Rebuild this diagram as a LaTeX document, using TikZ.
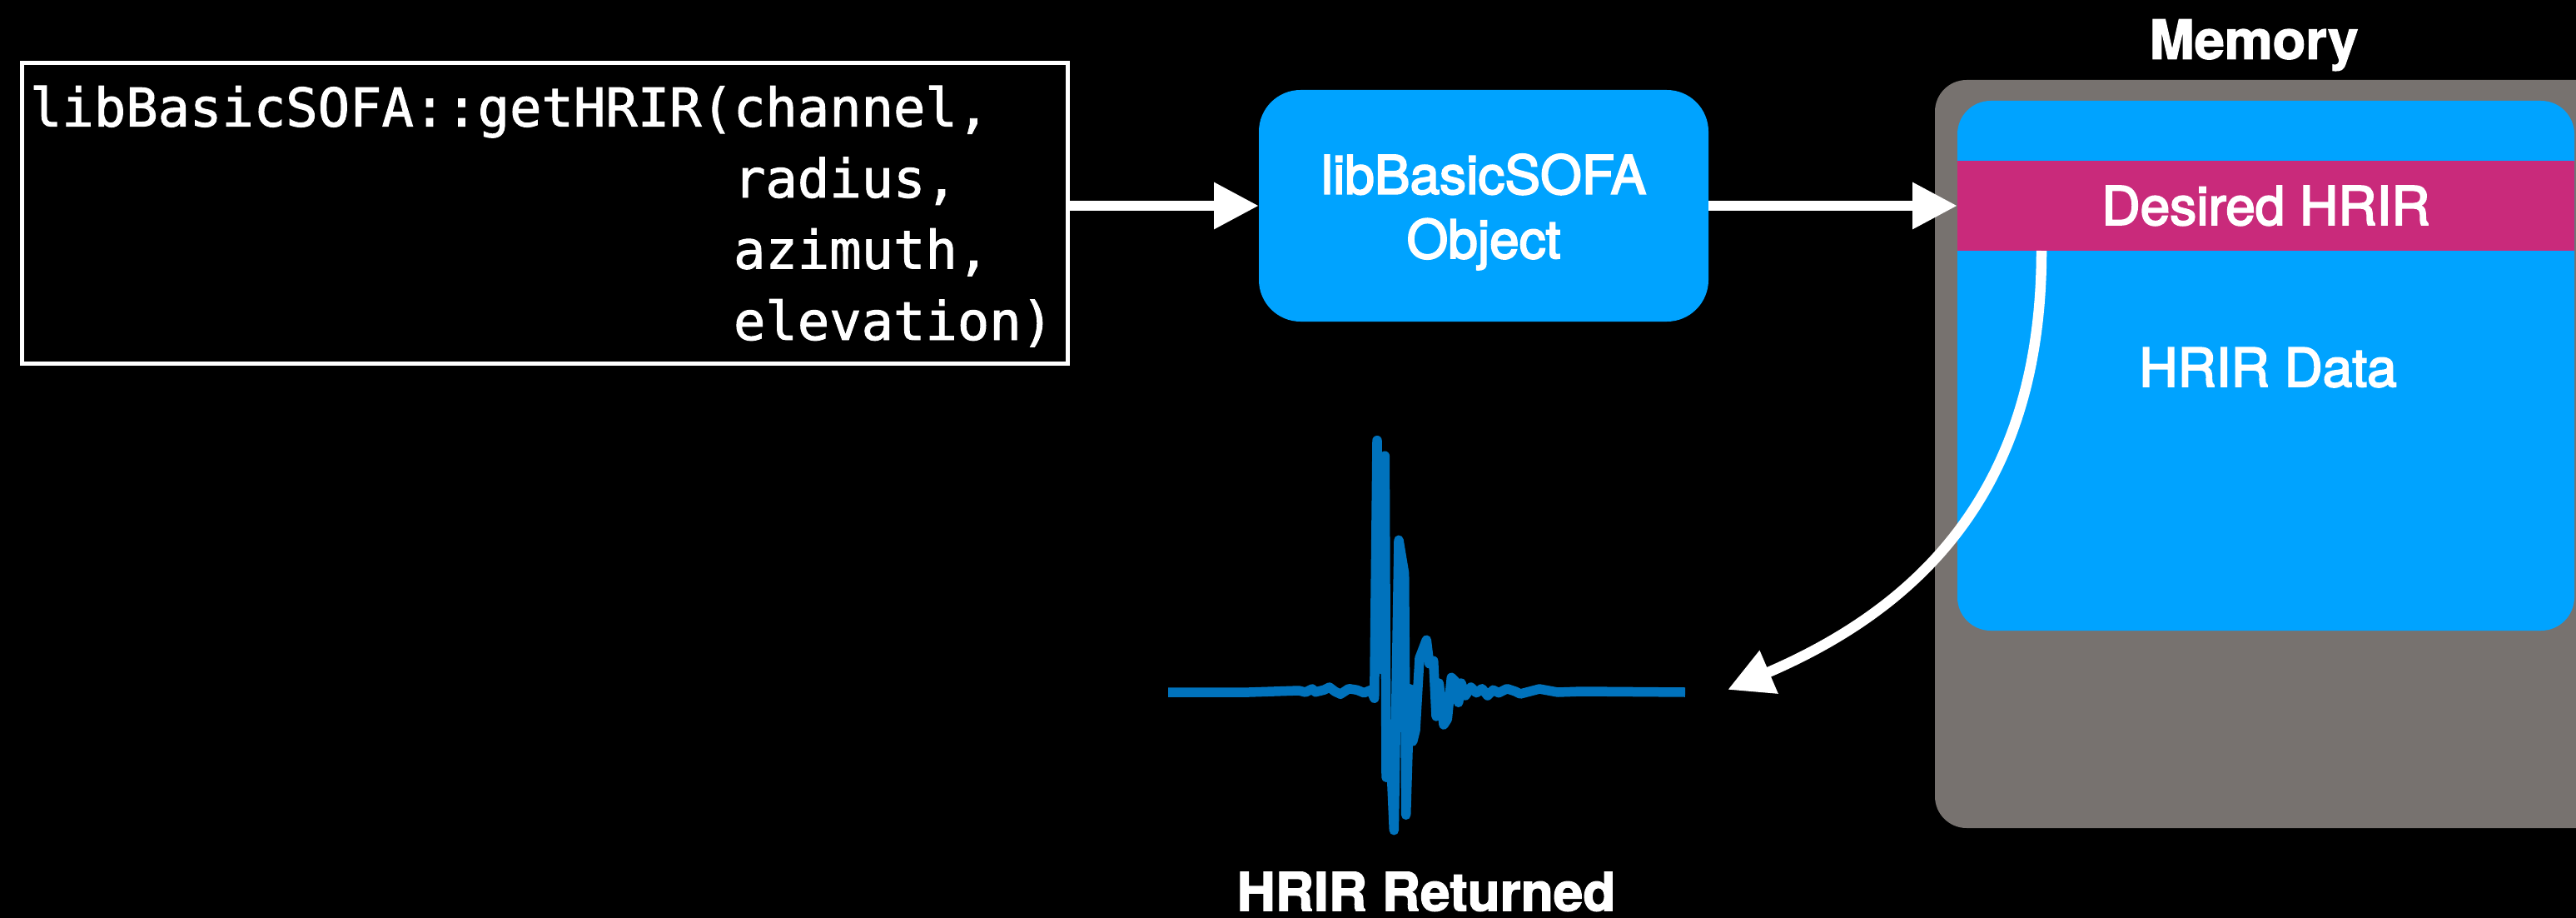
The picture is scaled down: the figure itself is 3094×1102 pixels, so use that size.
\documentclass[tikz,border=0pt]{standalone}
\usepackage{fontspec}
\setmainfont{TeX Gyre Heros}
\newfontfamily\labelfont{TeX Gyre Heros}[FakeBold=3]
\newfontfamily\headfont{TeX Gyre Heros}[FakeBold=2]
\newfontfamily\codefont{DejaVu Sans Mono}[FakeBold=1.5]
\usetikzlibrary{arrows.meta,calc}

\definecolor{memgray}{RGB}{119,114,111}
\definecolor{blockblue}{RGB}{0,163,255}
\definecolor{rowpink}{RGB}{201,42,123}
\definecolor{waveblue}{RGB}{0,114,188}

\tikzset{
  codebox/.style={draw=white, line width=5pt, inner sep=0pt, outer sep=2.5pt},
  codeline/.style={text=white, inner sep=0pt, outer sep=0pt, anchor=base west,
    font=\codefont\fontsize{63.8}{85}\selectfont},
  bluebox/.style={fill=blockblue, rounded corners=50pt, inner sep=0pt, outer sep=0pt},
  membox/.style={fill=memgray, rounded corners=38pt, inner sep=0pt, outer sep=0pt},
  datablock/.style={fill=blockblue, rounded corners=40pt, inner sep=0pt, outer sep=0pt},
  rowband/.style={fill=rowpink, inner sep=0pt, outer sep=0pt, text=white,
    font=\labelfont\fontsize{64}{77}\selectfont},
  plainlabel/.style={text=white, inner sep=0pt, outer sep=0pt, anchor=base,
    font=\labelfont\fontsize{64}{77}\selectfont},
  boldlabel/.style={text=white, inner sep=0pt, outer sep=0pt, anchor=base,
    font=\headfont\bfseries\fontsize{65}{78}\selectfont},
  flow/.style={draw=white, line width=12.5pt,
    -{Triangle[length=54pt,width=53pt]}},
  wave/.style={draw=waveblue, line width=11.5pt, line join=round, line cap=butt}
}

\begin{document}
\begin{tikzpicture}[x=1pt,y=-1pt]
\useasboundingbox (0,0) rectangle (3094,1102);
\fill[black] (0,0) rectangle (3094,1102);
\clip (0,0) rectangle (3094,1102);

% function call box
\node[codebox, minimum width=1256pt, minimum height=361pt] (call) at (654.5,256) {};
\node[codeline] (code1) at (36,151.7) {libBasicSOFA::getHRIR(channel,};
\node[codeline] (code2) at (36,237) {\phantom{libBasicSOFA::getHRIR(}radius,};
\node[codeline] (code3) at (36,322.5) {\phantom{libBasicSOFA::getHRIR(}azimuth,};
\node[codeline] (code4) at (36,408) {\phantom{libBasicSOFA::getHRIR(}elevation)};

% object box
\node[bluebox, minimum width=540pt, minimum height=278pt] (obj) at (1782,247) {};
\node[plainlabel] (objname) at (1782,232.7) {libBasicSOFA};
\node[plainlabel] (objkind) at (1782,310) {Object};

% memory
\node[boldlabel] (memtitle) at (2707,70.7) {Memory};
\node[membox, minimum width=826pt, minimum height=898pt] (mem) at (2737,545) {};
\node[datablock, minimum width=741pt, minimum height=636pt] (data) at (2721.5,439) {};
\node[rowband, minimum width=741pt, minimum height=108pt] (desired) at (2721.5,247) {Desired HRIR};
\node[plainlabel] (datalabel) at (2724,464) {HRIR Data};

% returned impulse response
\draw[wave] (1403,831) -- (1500,831) -- (1545,829.5) -- (1560,829) -- (1568,831)
  -- (1576,827) -- (1580,830.7) -- (1590,828.3) -- (1596.7,825) -- (1603.3,830)
  -- (1610,833.3) -- (1620,826.7) -- (1630,828.3) -- (1638.3,831.7)
  -- (1646.7,828.3) -- (1650.7,838.3) -- (1654,528.7) -- (1658.3,803.3)
  -- (1663.3,547.3) -- (1665,933.3) -- (1669.3,883.3) -- (1674.3,996.7)
  -- (1680,648.3) -- (1686.7,688.3) -- (1688.7,978.3) -- (1693.3,826.7)
  -- (1696.7,890) -- (1700,876.7) -- (1705,790) -- (1713.3,768.3)
  -- (1716.7,796.7) -- (1721.7,793.3) -- (1725,860) -- (1728.3,820)
  -- (1734,870) -- (1738.3,863.3) -- (1743.3,813.3) -- (1748.3,818.3)
  -- (1751.7,843.3) -- (1755,820) -- (1760,835) -- (1766.7,825)
  -- (1773.3,831.7) -- (1780,826.7) -- (1786.7,835) -- (1793.3,828.3)
  -- (1800,831.7) -- (1810,826.7) -- (1820,830) -- (1826,833) -- (1849,827)
  -- (1871,831) -- (1900,830) -- (2024,831);
\node[boldlabel, font=\headfont\bfseries\fontsize{64}{77}\selectfont] (retlabel) at (1713,1093.3) {HRIR Returned};
\coordinate (ret) at (2075,828);

% connectors
\draw[flow] (call.east |- obj.west) -- (obj.west);
\draw[flow] (obj.east) -- (desired.west);
\draw[flow] ($(desired.south west)+(101,0)$)
  .. controls ($(desired.south west)+(101,270)$) and (2323,721.6) .. (ret);
\end{tikzpicture}
\end{document}
